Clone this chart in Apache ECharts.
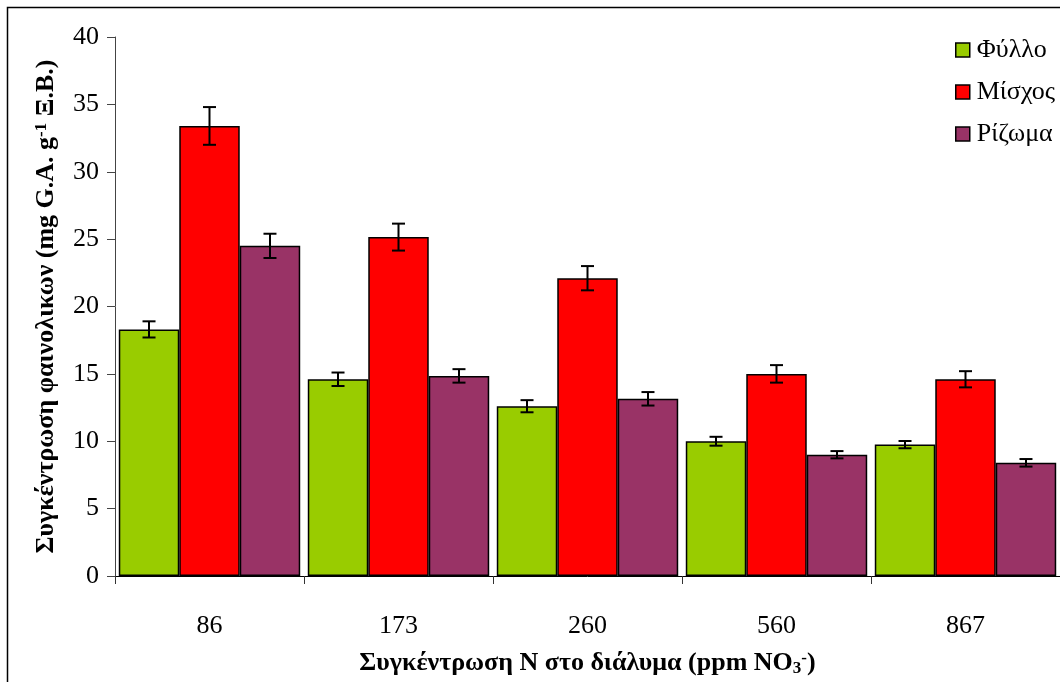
<!DOCTYPE html>
<html>
<head>
<meta charset="utf-8">
<script src="https://cdn.jsdelivr.net/npm/echarts@6/dist/echarts.min.js"></script>
<style>
  html, body { margin: 0; padding: 0; background: #fff; }
  #chart { width: 1060px; height: 682px; }
</style>
</head>
<body>
<div id="chart"></div>
<script>
// categories (ppm NO3-)
var categories = ['86', '173', '260', '560', '867'];
var seriesNames = ['Φύλλο', 'Μίσχος', 'Ρίζωμα'];
var colors = ['#99CC00', '#FF0000', '#993366'];

// mean values per series
var leafValues = [18.3, 14.6, 12.6, 10.0, 9.75];
var stemValues = [33.4, 25.15, 22.1, 15.0, 14.6];
var rootValues = [24.5, 14.85, 13.15, 9.0, 8.4];

// error bar half-lengths
var leafErr = [0.6, 0.5, 0.45, 0.33, 0.27];
var stemErr = [1.4, 1.0, 0.9, 0.65, 0.6];
var rootErr = [0.9, 0.5, 0.5, 0.27, 0.28];

var values = [leafValues, stemValues, rootValues];
var errors = [leafErr, stemErr, rootErr];

var chart = echarts.init(document.getElementById('chart'));
var font = '"Liberation Serif", "Times New Roman", serif';
var catGap = 0.04;

var series = [];
// bars
for (var s = 0; s < 3; s++) {
  series.push({
    name: seriesNames[s],
    type: 'bar',
    data: values[s],
    barGap: '0%',
    barCategoryGap: (catGap * 100) + '%',
    itemStyle: { color: colors[s], borderColor: '#000', borderWidth: 1.5 },
    z: 2
  });
}
// error bars, one custom series per bar series
for (var s2 = 0; s2 < 3; s2++) {
  (function (idx) {
    var data = values[idx].map(function (v, i) { return [i, v, errors[idx][i]]; });
    series.push({
      type: 'custom',
      name: 'err' + idx,
      z: 5,
      encode: { x: 0, y: 1 },
      data: data,
      renderItem: function (params, api) {
        var ci = api.value(0), v = api.value(1), e = api.value(2);
        var band = api.size([1, 0])[0];
        var bw = band * (1 - catGap) / 3;
        var c = api.coord([ci, v]);
        var x = c[0] + (idx - 1) * bw;
        var top = api.coord([ci, v + e])[1];
        var bot = api.coord([ci, v - e])[1];
        var cap = 6.5;
        var st = { stroke: '#000', lineWidth: 2 };
        return {
          type: 'group',
          children: [
            { type: 'line', shape: { x1: x, y1: top, x2: x, y2: bot }, style: st },
            { type: 'line', shape: { x1: x - cap, y1: top, x2: x + cap, y2: top }, style: st },
            { type: 'line', shape: { x1: x - cap, y1: bot, x2: x + cap, y2: bot }, style: st }
          ]
        };
      }
    });
  })(s2);
}

var option = {
  animation: false,
  backgroundColor: '#fff',
  textStyle: { fontFamily: font },
  graphic: [{
    type: 'rect',
    shape: { x: 7.5, y: 7.5, width: 1120, height: 720 },
    style: { fill: 'none', stroke: '#000', lineWidth: 1.5 },
    silent: true
  }],
  legend: {
    data: seriesNames,
    orient: 'vertical',
    left: 950,
    top: 32,
    itemWidth: 14,
    itemHeight: 14,
    itemGap: 16,
    icon: 'rect',
    itemStyle: { borderColor: '#000', borderWidth: 1.5 },
    textStyle: { fontFamily: font, fontSize: 26, color: '#000', padding: [0, 0, 0, 2] }
  },
  grid: { left: 115, top: 37, width: 952, height: 547, containLabel: false },
  xAxis: {
    type: 'category',
    data: categories,
    name: 'Συγκέντρωση N στο διάλυμα (ppm NO{sub|3}{sup|-})',
    nameLocation: 'middle',
    nameGap: 74,
    nameTextStyle: {
      fontFamily: font, fontSize: 26, fontWeight: 'bold', color: '#000',
      rich: {
        sub: { fontFamily: font, fontSize: 17, fontWeight: 'bold', verticalAlign: 'bottom', padding: [10, 0, 0, 0] },
        sup: { fontFamily: font, fontSize: 17, fontWeight: 'bold', verticalAlign: 'top', padding: [0, 0, 10, 0] }
      }
    },
    axisLine: { lineStyle: { color: '#000', width: 1 } },
    axisTick: { show: true, length: 8, lineStyle: { color: '#333' } },
    axisLabel: { fontFamily: font, fontSize: 26, color: '#000', margin: 37 },
    splitLine: { show: false }
  },
  yAxis: {
    type: 'value',
    min: 0,
    max: 40,
    interval: 5,
    name: 'Συγκέντρωση φαινολικων (mg G.A. g{sup|-1} Ξ.Β.)',
    nameLocation: 'middle',
    nameGap: 55,
    nameRotate: 90,
    nameTextStyle: {
      fontFamily: font, fontSize: 26, fontWeight: 'bold', color: '#000',
      rich: {
        sup: { fontFamily: font, fontSize: 17, fontWeight: 'bold', verticalAlign: 'top', padding: [0, 0, 10, 0] }
      }
    },
    axisLine: { show: true, lineStyle: { color: '#444', width: 1 } },
    axisTick: { show: true, length: 8, lineStyle: { color: '#444' } },
    axisLabel: { fontFamily: font, fontSize: 26, color: '#000', margin: 16 },
    splitLine: { show: false }
  },
  series: series
};

chart.setOption(option);
</script>
</body>
</html>
